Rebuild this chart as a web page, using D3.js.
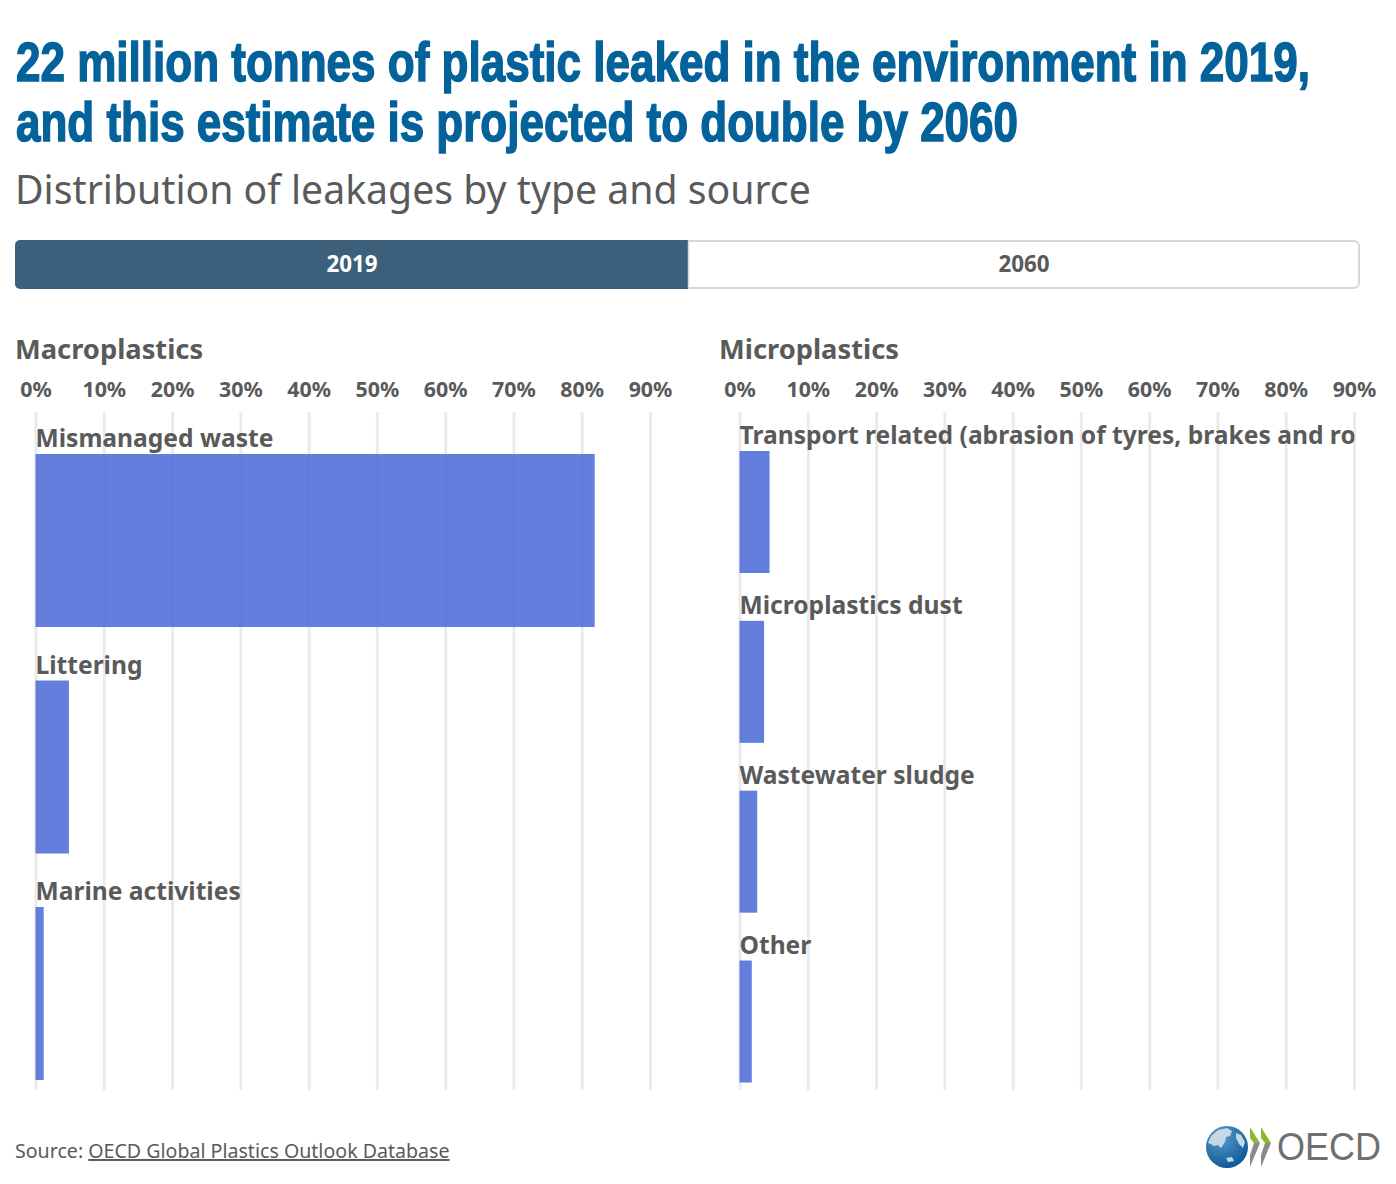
<!DOCTYPE html>
<html>
<head>
<meta charset="utf-8">
<script src="https://d3js.org/d3.v7.min.js"></script>
<style>
html, body { margin: 0; padding: 0; background: #fff; }
text { font-family: "Noto Sans", sans-serif; }
.tick text { font-size: 21.4px; font-weight: 700; fill: #5a5a5a; }
.tick line { stroke: #000; stroke-opacity: 0.08; stroke-width: 3px; }
.domain { display: none; }
.panel-title { font-size: 27.3px; font-weight: 700; fill: #5a5a5a; }
.bar-label { font-size: 24.6px; font-weight: 700; fill: #5a5a5a; }
</style>
</head>
<body>
<div id="plot"></div>
<script>
var titleLines = ["22 million tonnes of plastic leaked in the environment in 2019,", "and this estimate is projected to double by 2060"];
var subtitle = "Distribution of leakages by type and source";
var years = ["2019", "2060"];
var tickValues = [0, 10, 20, 30, 40, 50, 60, 70, 80, 90];

var macroCategories = ["Mismanaged waste", "Littering", "Marine activities"];
var macroValues = [81.9, 4.9, 1.2];
var microCategories = ["Transport related (abrasion of tyres, brakes and road markings)", "Microplastics dust", "Wastewater sludge", "Other"];
var microValues = [4.4, 3.6, 2.6, 1.8];

var width = 1396;
var height = 1184;
var svg = d3.select("#plot").append("svg").attr("width", width).attr("height", height).style("display", "block");

// title, no Oswald here so squeeze a narrow bold face to the same width
svg.selectAll(".title")
    .data(titleLines)
    .enter()
    .append("text")
    .attr("class", "title")
    .attr("x", 16)
    .attr("y", function(d, i) { return 81 + i * 60; })
    .attr("textLength", function(d, i) { return i == 0 ? 1294 : 1002; })
    .attr("lengthAdjust", "spacingAndGlyphs")
    .style("font-family", "'Liberation Sans Narrow', 'Liberation Sans', sans-serif")
    .style("font-size", "55px")
    .style("font-weight", "700")
    .style("fill", "#04629b")
    .style("stroke", "#04629b")
    .style("stroke-width", "1.5px")
    .text(function(d) { return d; });

svg.append("text")
    .attr("x", 15)
    .attr("y", 204)
    .style("font-size", "39.2px")
    .style("fill", "#5a5a5a")
    .text(subtitle);

// year switch
var yearScale = d3.scaleBand().domain(years).range([16, 1360]);

svg.append("rect")
    .attr("x", 16).attr("y", 241)
    .attr("width", 1343).attr("height", 47)
    .attr("rx", 5)
    .attr("fill", "#fff")
    .attr("stroke", "#d6d8da")
    .attr("stroke-width", 2);

svg.append("path")
    .attr("d", "M688,240H20a5,5 0 0 0 -5,5V284a5,5 0 0 0 5,5H688Z")
    .attr("fill", "#3c607c");

svg.append("line")
    .attr("x1", 688.5).attr("x2", 688.5)
    .attr("y1", 241).attr("y2", 288)
    .attr("stroke", "#d6d8da")
    .attr("stroke-width", 1.5);

svg.selectAll(".year")
    .data(years)
    .enter()
    .append("text")
    .attr("class", "year")
    .attr("x", function(d) { return yearScale(d) + yearScale.bandwidth() / 2; })
    .attr("y", 272)
    .attr("text-anchor", "middle")
    .style("font-size", "22.4px")
    .style("font-weight", "700")
    .style("fill", function(d, i) { return i == 0 ? "#fff" : "#5a5a5a"; })
    .text(function(d) { return d; });

plotPanel("Macroplastics", 15, 35.5, macroCategories, macroValues, 454, 1080, 173, "clip-macro");
plotPanel("Microplastics", 719, 739.5, microCategories, microValues, 451, 1082.5, 122, "clip-micro");

function plotPanel(title, titleX, x0, categories, values, top, bottom, barHeight, clipId) {
    var xScale = d3.scaleLinear().domain([0, 90]).range([x0, x0 + 614.5]);
    var step = (bottom - top - barHeight) / (categories.length - 1);
    var yScale = d3.scaleBand()
        .domain(categories)
        .range([top, bottom])
        .paddingInner(1 - barHeight / step);

    svg.append("text")
        .attr("class", "panel-title")
        .attr("x", titleX)
        .attr("y", 359)
        .text(title);

    var axis = svg.append("g")
        .attr("transform", "translate(0,412)")
        .call(d3.axisBottom(xScale).tickValues(tickValues).tickSize(678).tickFormat(function(d) { return d + "%"; }));

    axis.selectAll(".tick text")
        .attr("y", -15)
        .attr("dy", 0);

    svg.append("clipPath")
        .attr("id", clipId)
        .append("rect")
        .attr("x", x0 - 5).attr("y", 400)
        .attr("width", 620).attr("height", 700);

    svg.append("g")
        .selectAll("rect")
        .data(values)
        .enter()
        .append("rect")
        .attr("x", xScale(0))
        .attr("y", function(d, i) { return yScale(categories[i]); })
        .attr("width", function(d) { return xScale(d) - xScale(0); })
        .attr("height", yScale.bandwidth())
        .attr("fill", "#4a69d8")
        .attr("fill-opacity", 0.86);

    svg.append("g")
        .attr("clip-path", "url(#" + clipId + ")")
        .selectAll("text")
        .data(categories)
        .enter()
        .append("text")
        .attr("class", "bar-label")
        .attr("x", x0)
        .attr("y", function(d) { return yScale(d) - 7; })
        .text(function(d) { return d; });
}

svg.append("text")
    .attr("x", 15)
    .attr("y", 1158)
    .style("font-size", "19.6px")
    .style("fill", "#5a5a5a")
    .text("Source: ")
    .append("tspan")
    .style("text-decoration", "underline")
    .text("OECD Global Plastics Outlook Database");

// logo
var grad = svg.append("defs").append("radialGradient").attr("id", "globe").attr("cx", "35%").attr("cy", "25%").attr("r", "85%");
grad.append("stop").attr("offset", "0%").attr("stop-color", "#5b9ccb");
grad.append("stop").attr("offset", "100%").attr("stop-color", "#07528f");

var logo = svg.append("g");
logo.append("circle").attr("cx", 1227).attr("cy", 1147).attr("r", 21).attr("fill", "url(#globe)");
logo.append("path")
    .attr("d", "M1208,1143l3,-7l7,-6l9,-2l5,3l-2,5l-4,1l-1,5l-4,6l-3,-3l-4,1l-3,-2Z M1226,1158l6,-1l2,4l-6,1Z M1236,1133l5,2l4,7l-2,6l-4,-4l-3,-6Z")
    .attr("fill", "#c4d8e6");
logo.append("path").attr("d", "M1250,1127L1260,1143H1254L1250,1138Z M1261,1127L1271,1143H1265L1261,1138Z").attr("fill", "#8cb82b");
logo.append("path").attr("d", "M1260,1143L1250,1167V1155L1254,1143Z M1271,1143L1261,1167V1155L1265,1143Z").attr("fill", "#8a8a8a");
logo.append("text")
    .attr("x", 1277).attr("y", 1160)
    .attr("textLength", 104)
    .attr("lengthAdjust", "spacingAndGlyphs")
    .style("font-family", "'Liberation Sans', sans-serif")
    .style("font-size", "39px")
    .style("fill", "#6f6f6f")
    .text("OECD");
</script>
</body>
</html>
